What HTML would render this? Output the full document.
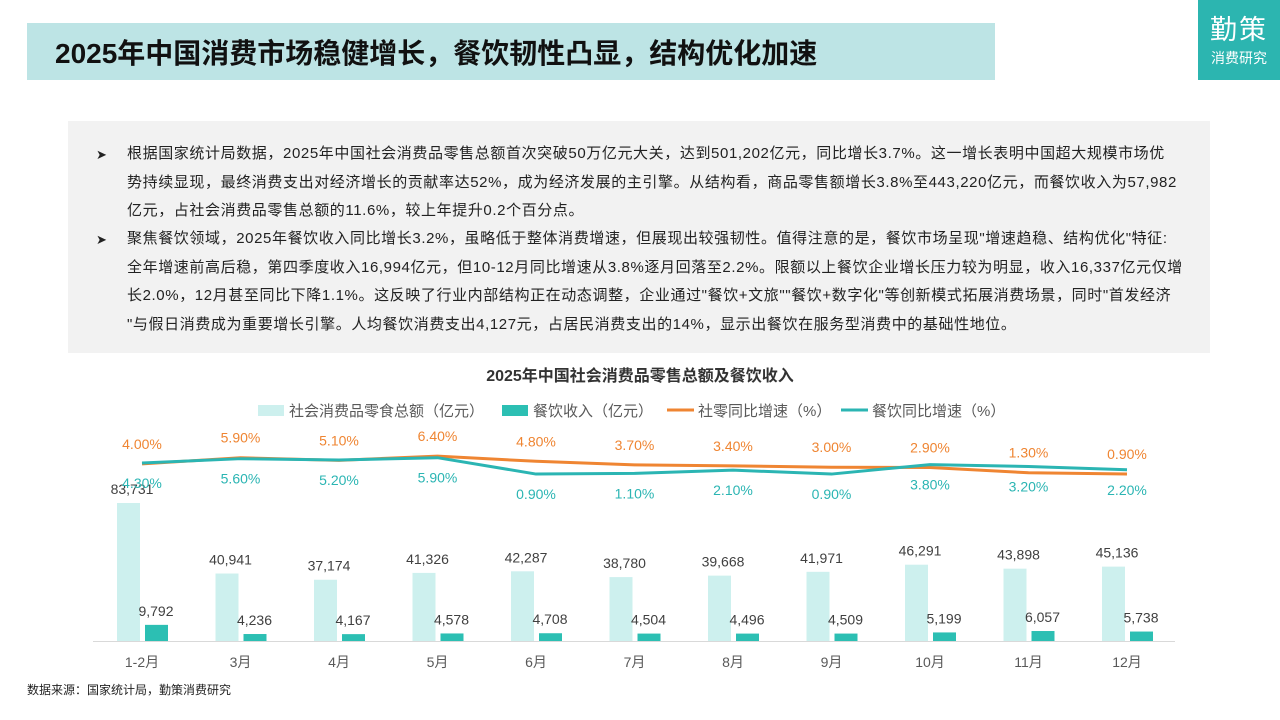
<!DOCTYPE html>
<html><head><meta charset="utf-8">
<style>
body{margin:0;width:1280px;height:720px;background:#fff;position:relative;overflow:hidden;font-family:"Liberation Sans","Noto Sans CJK SC",sans-serif;}
.title{position:absolute;left:27px;top:23px;width:968px;height:57px;background:#bde4e5;}
.title span{position:absolute;left:28px;top:9px;font-size:28px;font-weight:bold;color:#111;}
.logo{position:absolute;left:1198px;top:0;width:82px;height:80px;background:#2cb5b0;color:#fff;text-align:center;}
.box{position:absolute;left:68px;top:121px;width:1142px;height:232px;background:#f2f2f2;}
.p{position:absolute;left:59px;font-size:15px;letter-spacing:0.6px;color:#222;line-height:28.5px;white-space:nowrap;}
.arrow{position:absolute;left:28px;font-size:13px;color:#222;}
.src{position:absolute;left:27px;top:681px;font-size:12px;color:#222;}
</style></head><body>
<div class="title"><span>2025年中国消费市场稳健增长，餐饮韧性凸显，结构优化加速</span></div>
<div class="logo"><div style="font-size:27px;padding-top:8px;letter-spacing:2px">勤策</div><div style="font-size:14px;margin-top:1px">消费研究</div></div>
<div class="box">
<div class="arrow" style="top:26px">➤</div>
<div class="p" style="top:19px">根据国家统计局数据，2025年中国社会消费品零售总额首次突破50万亿元大关，达到501,202亿元，同比增长3.7%。这一增长表明中国超大规模市场优<br>势持续显现，最终消费支出对经济增长的贡献率达52%，成为经济发展的主引擎。从结构看，商品零售额增长3.8%至443,220亿元，而餐饮收入为57,982<br>亿元，占社会消费品零售总额的11.6%，较上年提升0.2个百分点。</div>
<div class="arrow" style="top:111px">➤</div>
<div class="p" style="top:104px">聚焦餐饮领域，2025年餐饮收入同比增长3.2%，虽略低于整体消费增速，但展现出较强韧性。值得注意的是，餐饮市场呈现"增速趋稳、结构优化"特征:<br>全年增速前高后稳，第四季度收入16,994亿元，但10-12月同比增速从3.8%逐月回落至2.2%。限额以上餐饮企业增长压力较为明显，收入16,337亿元仅增<br>长2.0%，12月甚至同比下降1.1%。这反映了行业内部结构正在动态调整，企业通过"餐饮+文旅""餐饮+数字化"等创新模式拓展消费场景，同时"首发经济<br>"与假日消费成为重要增长引擎。人均餐饮消费支出4,127元，占居民消费支出的14%，显示出餐饮在服务型消费中的基础性地位。</div>
</div>
<svg id="chart" width="1280" height="720" style="position:absolute;left:0;top:0"></svg>
<div class="src">数据来源：国家统计局，勤策消费研究</div>
<script>
const categories=["1-2月","3月","4月","5月","6月","7月","8月","9月","10月","11月","12月"];
const retailTotal=[83731,40941,37174,41326,42287,38780,39668,41971,46291,43898,45136];
const cateringRevenue=[9792,4236,4167,4578,4708,4504,4496,4509,5199,6057,5738];
const retailGrowth=[4.0,5.9,5.1,6.4,4.8,3.7,3.4,3.0,2.9,1.3,0.9];
const cateringGrowth=[4.3,5.6,5.2,5.9,0.9,1.1,2.1,0.9,3.8,3.2,2.2];
const NS="http://www.w3.org/2000/svg";
const svg=document.getElementById('chart');
function xC(i){return 142+i*98.5;}
function yBar(v){return 641-v*0.001648;}
function yPct(v){return 477-v*3.27;}
function mk(t,a,parent){const e=document.createElementNS(NS,t);for(const k in a)e.setAttribute(k,a[k]);(parent||svg).appendChild(e);return e;}
function txt(x,y,s,fill,size,anchor,weight){const e=mk('text',{x:x,y:y,fill:fill,'font-size':size,'text-anchor':anchor||'middle','font-family':'"Liberation Sans","Noto Sans CJK SC",sans-serif'});if(weight)e.setAttribute('font-weight',weight);e.textContent=s;return e;}
const t=txt(640,381,"2025年中国社会消费品零售总额及餐饮收入","#333",16,'middle','bold');


const lg=[["rect","#cdf0ee",258,"社会消费品零食总额（亿元）"],["rect","#2cbfb3",502,"餐饮收入（亿元）"],["line","#ef8532",667,"社零同比增速（%）"],["line","#2bb5b3",841,"餐饮同比增速（%）"]];
lg.forEach(l=>{
  const g=mk('g',{});
  
  
  if(l[0]=="rect")mk('rect',{x:l[2],y:405,width:26,height:11,fill:l[1]},g);
  else mk('line',{x1:l[2],y1:410,x2:l[2]+27,y2:410,stroke:l[1],'stroke-width':3},g);
  const tt=txt(l[2]+31,416,l[3],"#595959",15,'start');g.appendChild(tt);
});
mk('line',{x1:93,y1:641.5,x2:1175,y2:641.5,stroke:'#d9d9d9','stroke-width':1});
categories.forEach((c,i)=>{
  const cx=xC(i);
  const b1=mk('rect',{x:cx-25,y:yBar(retailTotal[i]),width:23,height:641-yBar(retailTotal[i]),fill:'#cdf0ee'});
  
  
  const b2=mk('rect',{x:cx+3,y:yBar(cateringRevenue[i]),width:23,height:641-yBar(cateringRevenue[i]),fill:'#2cbfb3'});
  
  
  txt(cx-10,yBar(retailTotal[i])-9,retailTotal[i].toLocaleString('en-US'),"#404040",14);
  txt(cx+14,yBar(cateringRevenue[i])-9,cateringRevenue[i].toLocaleString('en-US'),"#404040",14);
  const xl=txt(cx,667,c,"#595959",14);
  
  
});
function line(arr,color,name,dy){
  const p=mk('polyline',{points:arr.map((v,i)=>xC(i)+','+yPct(v)).join(' '),fill:'none',stroke:color,'stroke-width':3,'stroke-linejoin':'round'});
  
  
  arr.map((v,i)=>txt(xC(i),yPct(v)+dy,v.toFixed(2)+'%',color,14));
}
line(retailGrowth,'#ef8532','line-retail-growth',-15);
line(cateringGrowth,'#2bb5b3','line-catering-growth',25);
</script>
</body></html>
